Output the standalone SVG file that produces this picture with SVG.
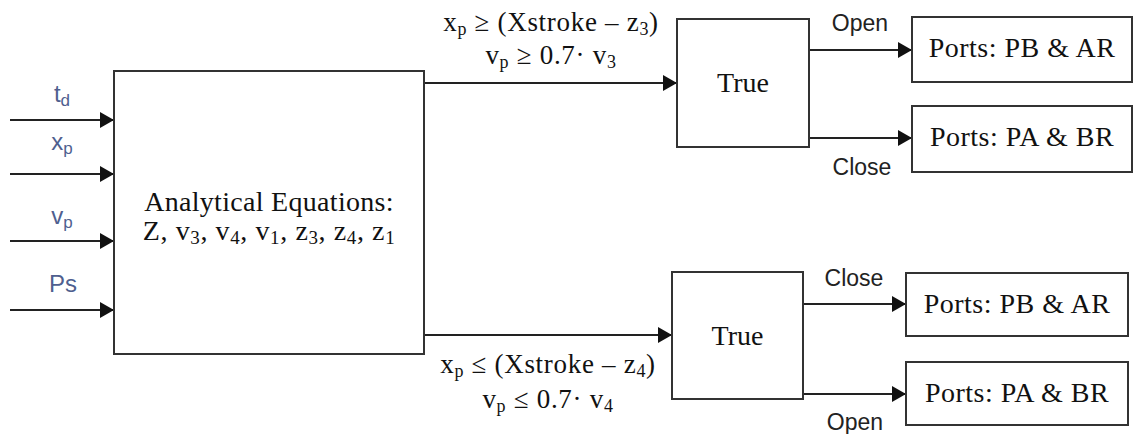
<svg xmlns="http://www.w3.org/2000/svg" width="1134" height="434" viewBox="0 0 1134 434">
<style>
.box{fill:#fff;stroke:#333;stroke-width:2}
.ln{fill:none;stroke:#222;stroke-width:2}
.serif{font-family:"Liberation Serif","Times New Roman",serif;fill:#111;text-anchor:middle}
.big{font-size:28px}
.ports{letter-spacing:0.5px}
.cond{font-size:27px;letter-spacing:0.7px}
.sans{font-family:"Liberation Sans",Arial,sans-serif;font-size:23px;fill:#222;text-anchor:middle}
.inp{font-family:"Liberation Sans",Arial,sans-serif;font-size:24px;fill:#4f5f8f;text-anchor:middle}
.sub{font-size:17px}
</style>
<defs>
<marker id="ah" markerUnits="userSpaceOnUse" markerWidth="15" markerHeight="18" refX="14" refY="9" orient="auto">
<path d="M0,1 L14,9 L0,17 Z" fill="#111"/>
</marker>
</defs>
<rect width="1134" height="434" fill="#fff"/>

<g id="connectors">
<line class="ln" x1="10" y1="120" x2="114" y2="120" marker-end="url(#ah)"/>
<line class="ln" x1="10" y1="174" x2="114" y2="174" marker-end="url(#ah)"/>
<line class="ln" x1="10" y1="241" x2="114" y2="241" marker-end="url(#ah)"/>
<line class="ln" x1="10" y1="310" x2="114" y2="310" marker-end="url(#ah)"/>
<line class="ln" x1="424" y1="83" x2="677" y2="83" marker-end="url(#ah)"/>
<line class="ln" x1="424" y1="335" x2="672" y2="335" marker-end="url(#ah)"/>
<line class="ln" x1="809" y1="50" x2="912" y2="50" marker-end="url(#ah)"/>
<line class="ln" x1="809" y1="138" x2="912" y2="138" marker-end="url(#ah)"/>
<line class="ln" x1="803" y1="304" x2="906" y2="304" marker-end="url(#ah)"/>
<line class="ln" x1="803" y1="394" x2="906" y2="394" marker-end="url(#ah)"/>
</g>

<g id="input-labels">
<text class="inp" x="62" y="102">t<tspan class="sub" dy="4">d</tspan></text>
<text class="inp" x="62" y="150">x<tspan class="sub" dy="4">p</tspan></text>
<text class="inp" x="62" y="224">v<tspan class="sub" dy="4">p</tspan></text>
<text class="inp" x="63" y="292">Ps</text>
</g>

<g id="analytical">
<rect class="box" x="114" y="71" width="310" height="283"/>
<text class="serif big" x="269" y="211" letter-spacing="0.3">Analytical Equations:</text>
<text class="serif big" x="269" y="240" letter-spacing="0.6">Z, v<tspan font-size="19" dy="4">3</tspan><tspan dy="-4">, v</tspan><tspan font-size="19" dy="4">4</tspan><tspan dy="-4">, v</tspan><tspan font-size="19" dy="4">1</tspan><tspan dy="-4">, z</tspan><tspan font-size="19" dy="4">3</tspan><tspan dy="-4">, z</tspan><tspan font-size="19" dy="4">4</tspan><tspan dy="-4">, z</tspan><tspan font-size="19" dy="4">1</tspan></text>
</g>

<g id="cond-top">
<text class="serif cond" x="551" y="31">x<tspan font-size="18" dy="4">p</tspan><tspan dy="-4"> ≥ (Xstroke – z</tspan><tspan font-size="18" dy="4">3</tspan><tspan dy="-4">)</tspan></text>
<text class="serif cond" x="551" y="64">v<tspan font-size="18" dy="4">p</tspan><tspan dy="-4"> ≥ 0.7· v</tspan><tspan font-size="18" dy="4">3</tspan></text>
</g>

<g id="cond-bottom">
<text class="serif cond" x="548" y="373">x<tspan font-size="18" dy="4">p</tspan><tspan dy="-4"> ≤ (Xstroke – z</tspan><tspan font-size="18" dy="4">4</tspan><tspan dy="-4">)</tspan></text>
<text class="serif cond" x="548" y="408">v<tspan font-size="18" dy="4">p</tspan><tspan dy="-4"> ≤ 0.7· v</tspan><tspan font-size="18" dy="4">4</tspan></text>
</g>

<g id="true-top">
<rect class="box" x="677" y="19" width="132" height="128"/>
<text class="serif big" x="743" y="92">True</text>
</g>

<g id="true-bottom">
<rect class="box" x="672" y="272" width="131" height="127"/>
<text class="serif big" x="737.5" y="345">True</text>
</g>

<g id="ports-pb-top">
<rect class="box" x="912" y="17" width="220" height="65"/>
<text class="serif big ports" x="1022" y="57">Ports: PB &amp; AR</text>
</g>
<g id="ports-pa-top">
<rect class="box" x="912" y="106" width="220" height="66"/>
<text class="serif big ports" x="1022" y="146">Ports: PA &amp; BR</text>
</g>
<g id="ports-pb-bottom">
<rect class="box" x="906" y="273" width="222" height="63"/>
<text class="serif big ports" x="1017" y="313">Ports: PB &amp; AR</text>
</g>
<g id="ports-pa-bottom">
<rect class="box" x="906" y="362" width="222" height="63"/>
<text class="serif big ports" x="1017" y="402">Ports: PA &amp; BR</text>
</g>

<g id="branch-labels">
<text class="sans" x="860" y="31">Open</text>
<text class="sans" x="862" y="175">Close</text>
<text class="sans" x="854" y="286">Close</text>
<text class="sans" x="855" y="430">Open</text>
</g>
</svg>
